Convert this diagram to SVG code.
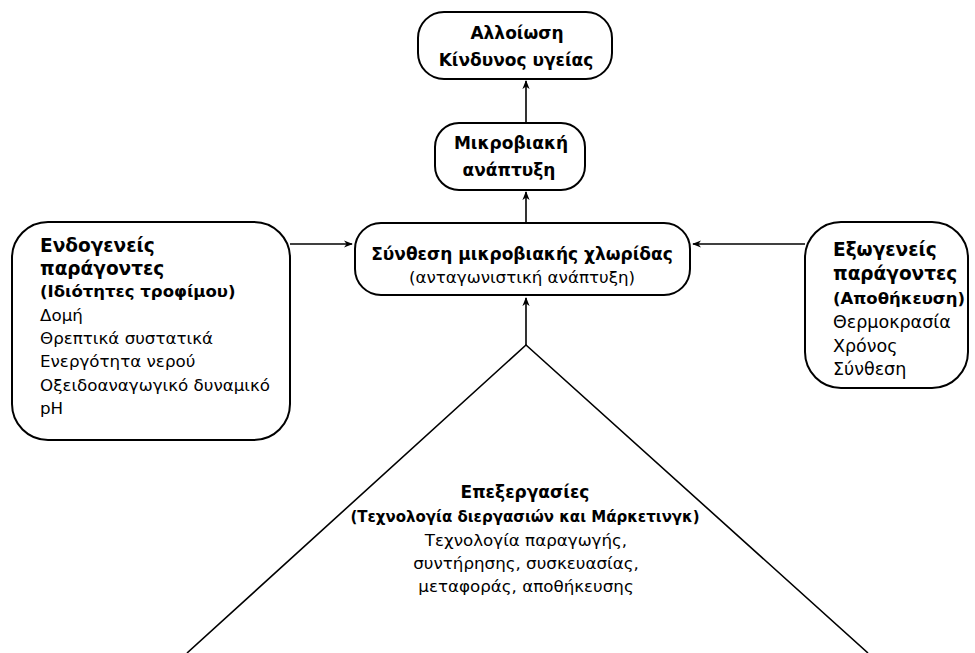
<svg xmlns="http://www.w3.org/2000/svg" width="975" height="653" viewBox="0 0 975 653">
  <defs>
    <marker id="arrow" viewBox="0 0 10 10" refX="9" refY="5" markerWidth="9" markerHeight="9" markerUnits="userSpaceOnUse" orient="auto">
      <path d="M0,1 L10,5 L0,9 L3,5 Z" fill="#000"/>
    </marker>
    <style>
      .box { fill: #fff; stroke: #000; stroke-width: 2; }
      .edge { fill: none; stroke: #000; stroke-width: 1.6; }
      text { font-family: "DejaVu Sans", "Liberation Sans", sans-serif; fill: #000; }
      .b { font-weight: bold; font-size: 17px; }
      .bl { font-weight: bold; font-size: 18.5px; }
      .bs { font-weight: bold; font-size: 15px; }
      .bm { font-weight: bold; font-size: 16.5px; }
      .r { font-size: 16.7px; }
      .rl { font-size: 17.5px; }
      .c { text-anchor: middle; }
    </style>
  </defs>
  <rect width="975" height="653" fill="#fff"/>

  <!-- connectors -->
  <g id="connectors">
    <line class="edge" x1="526" y1="123" x2="526" y2="81" marker-end="url(#arrow)"/>
    <line class="edge" x1="526" y1="223" x2="526" y2="192" marker-end="url(#arrow)"/>
    <line class="edge" x1="290" y1="244" x2="352" y2="244" marker-end="url(#arrow)"/>
    <line class="edge" x1="805" y1="244" x2="693" y2="244" marker-end="url(#arrow)"/>
    <line class="edge" x1="526" y1="345" x2="526" y2="298" marker-end="url(#arrow)"/>
  </g>

  <!-- top outcome -->
  <g id="spoilage">
    <rect class="box" x="418" y="12" width="194" height="67" rx="26"/>
    <text class="b c" x="517" y="39">Αλλοίωση</text>
    <text class="b c" x="516" y="66">Κίνδυνος υγείας</text>
  </g>

  <g id="growth">
    <rect class="box" x="435" y="123" width="150" height="67" rx="24"/>
    <text class="b c" x="511" y="149">Μικροβιακή</text>
    <text class="b c" x="509" y="176">ανάπτυξη</text>
  </g>

  <g id="flora">
    <rect class="box" x="355" y="223" width="335" height="72" rx="26"/>
    <text class="b c" x="522" y="260">Σύνθεση μικροβιακής χλωρίδας</text>
    <text class="r c" x="522" y="283">(ανταγωνιστική ανάπτυξη)</text>
  </g>

  <g id="intrinsic">
    <rect class="box" x="12" y="222" width="278" height="218" rx="36"/>
    <text class="bl" x="40" y="252">Ενδογενείς</text>
    <text class="bl" x="40" y="275">παράγοντες</text>
    <text class="bm" x="40" y="297">(Ιδιότητες τροφίμου)</text>
    <text class="r" x="40" y="321">Δομή</text>
    <text class="r" x="40" y="344">Θρεπτικά συστατικά</text>
    <text class="r" x="40" y="367">Ενεργότητα νερού</text>
    <text class="r" x="40" y="391">Οξειδοαναγωγικό δυναμικό</text>
    <text class="r" x="40" y="414">pH</text>
  </g>

  <g id="extrinsic">
    <rect class="box" x="805" y="222" width="163" height="166" rx="36"/>
    <text class="bl" x="833" y="256">Εξωγενείς</text>
    <text class="bl" x="833" y="280">παράγοντες</text>
    <text class="bm" x="833" y="304">(Αποθήκευση)</text>
    <text class="rl" x="833" y="328">Θερμοκρασία</text>
    <text class="rl" x="833" y="352">Χρόνος</text>
    <text class="rl" x="833" y="375">Σύνθεση</text>
  </g>

  <g id="processing">
    <polyline class="edge" points="187,653 526,345 868,653"/>
    <text class="b c" x="525" y="498">Επεξεργασίες</text>
    <text class="bs c" x="525" y="522">(Τεχνολογία διεργασιών και Μάρκετινγκ)</text>
    <text class="r c" x="526" y="546">Τεχνολογία παραγωγής,</text>
    <text class="r c" x="526" y="569">συντήρησης, συσκευασίας,</text>
    <text class="r c" x="526" y="592">μεταφοράς, αποθήκευσης</text>
  </g>
</svg>
